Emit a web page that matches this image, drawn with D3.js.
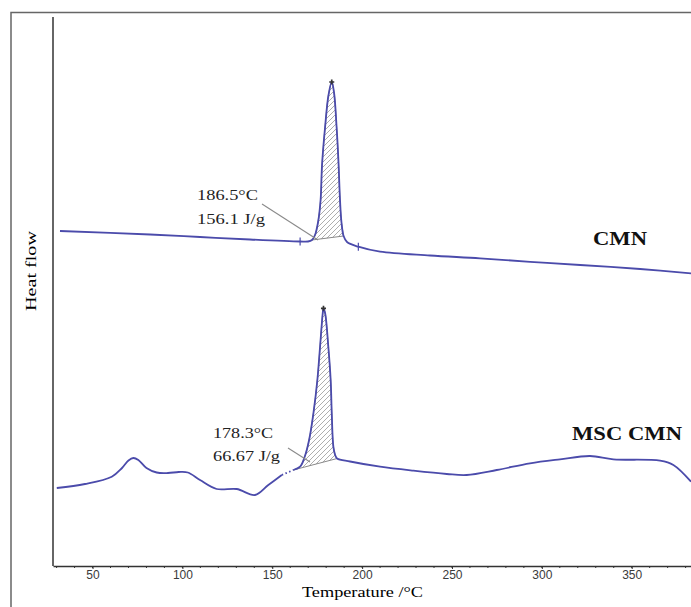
<!DOCTYPE html>
<html>
<head>
<meta charset="utf-8">
<script src="https://cdn.jsdelivr.net/npm/d3@7"></script>
<style>
  body { margin: 0; background: #fff; }
</style>
</head>
<body>
<script>
// DSC traces (heat flow in arbitrary units, endo up)
const cmnT  = [31.9, 82, 109.8, 137.6, 165.5, 169.9, 172.1, 173.8, 175.5, 176.9, 177.7, 179.4, 181.3, 183.1,
               184.4, 185.8, 186.8, 187.7, 188.5, 189.7, 191.6, 197.9, 210, 237.8, 265.6, 293.5, 321.3, 354.7, 383]
const cmnHF = [335, 331.5, 329, 326.5, 324.5, 324.5, 326, 331, 344, 366, 401, 439, 471, 484,
               473, 439, 406, 366, 344, 330, 324, 319.3, 314.3, 310.5, 307.7, 304.2, 301, 297, 292.7]

const mscT  = [30.1, 45.8, 60.7, 66.4, 70, 72.7, 75.5, 80, 85.7, 92, 98, 103, 109.8, 119.1, 130.2, 140.4, 147.8, 155.3,
               161.7, 165.5, 168.2, 170.5, 172.9, 175.1, 176.6, 178.1, 178.5, 179.4, 181.2, 182.5, 183.1, 184, 185, 186.1,
               193.3, 210, 228.5, 247.1, 258.2, 274.9, 293.4, 310.1, 326.8, 339.8, 365.8, 373.2, 383]
const mscHF = [78, 82, 89.3, 98, 105.5, 108, 106, 98, 93.5, 93, 94, 93.5, 86, 77, 77, 71, 81, 91,
               96, 99.3, 110, 126, 152.7, 186, 219.3, 253, 257.7, 253, 219.3, 186, 153, 119.3, 111, 107.5,
               104.5, 99.3, 95.3, 92, 91, 96, 102.7, 106.7, 110, 106.7, 105.3, 101, 84.3]

// analysis marks (temperatures)
const cmnLimits = [165.5, 197.9]
const cmnBase   = [172.1, 189.7]
const mscGap    = [155.3, 161.7]
const mscBase   = [161.7, 186.1]

const xTicks = [50, 100, 150, 200, 250, 300, 350]
const xMinor = d3.range(30, 390, 10)

const cmnNotes = ['186.5°C', '156.1 J/g']
const mscNotes = ['178.3°C', '66.67 J/g']

const W = 691, H = 607
const lineCol = '#4b4bab'

let svg = d3.select('body').append('svg')
    .attr('width', W)
    .attr('height', H)

svg.append('rect').attr('width', W).attr('height', H).attr('fill', '#fff')

// outer frame
svg.append('path')
    .attr('d', `M11,${H} V12.5 H${W}`)
    .attr('fill', 'none')
    .attr('stroke', '#666')
    .attr('stroke-width', 1.5)

const x = d3.scaleLinear().domain([28, 383]).range([53, 691])
const y = d3.scaleLinear().domain([0, 550]).range([566, 16])

// hatch for the integrated peaks
svg.append('defs').append('pattern')
    .attr('id', 'hatch')
    .attr('patternUnits', 'userSpaceOnUse')
    .attr('width', 5).attr('height', 5)
  .append('path')
    .attr('d', 'M-1,1 l2,-2 M0,5 l5,-5 M4,6 l2,-2')
    .attr('stroke', '#999')
    .attr('stroke-width', 0.8)

// axes
svg.append('line')
    .attr('x1', x(28)).attr('x2', x(28))
    .attr('y1', 17).attr('y2', y(0))
    .attr('stroke', '#333').attr('stroke-width', 1.5)

let xAxis = svg.append('g')
    .attr('transform', `translate(0,${y(0)})`)
    .call(d3.axisBottom(x).tickValues(xTicks).tickSize(3).tickPadding(1).tickSizeOuter(0))
xAxis.select('.domain').attr('stroke', '#333').attr('stroke-width', 1.5)
xAxis.selectAll('.tick line').attr('stroke', '#333')
xAxis.selectAll('text')
    .attr('font-family', 'Liberation Sans, Arial, sans-serif')
    .attr('font-size', 12)
    .attr('fill', '#3a3a3a')

svg.append('g')
    .selectAll('line')
    .data(xMinor)
    .join('line')
        .attr('x1', d => x(d)).attr('x2', d => x(d))
        .attr('y1', y(0)).attr('y2', y(0) + 2)
        .attr('stroke', '#333')

svg.append('text')
    .attr('x', 302).attr('y', 597)
    .attr('textLength', 121).attr('lengthAdjust', 'spacingAndGlyphs')
    .attr('font-family', 'Liberation Serif, Times New Roman, serif')
    .attr('font-size', 15)
    .text('Temperature /°C')

svg.append('text')
    .attr('transform', 'translate(36,271) rotate(-90)')
    .attr('text-anchor', 'middle')
    .attr('textLength', 80).attr('lengthAdjust', 'spacingAndGlyphs')
    .attr('font-family', 'Liberation Serif, Times New Roman, serif')
    .attr('font-size', 15)
    .text('Heat flow')

const cmn = cmnT.map((t, i) => ({ t, v: cmnHF[i] }))
const msc = mscT.map((t, i) => ({ t, v: mscHF[i] }))

const line = d3.line().x(d => x(d.t)).y(d => y(d.v)).curve(d3.curveCatmullRom.alpha(0.5))

const inRange = (d, r) => d.t >= r[0] && d.t <= r[1]

// hatched peak areas, closed by the straight integration baseline
svg.append('path')
    .attr('d', line(cmn.filter(d => inRange(d, cmnBase))) + 'Z')
    .attr('fill', 'url(#hatch)')
    .attr('stroke', '#8a8a8a').attr('stroke-width', 1)
svg.append('path')
    .attr('d', line(msc.filter(d => inRange(d, mscBase))) + 'Z')
    .attr('fill', 'url(#hatch)')
    .attr('stroke', '#8a8a8a').attr('stroke-width', 1)

// curves
svg.append('path')
    .attr('d', line(cmn))
    .attr('fill', 'none').attr('stroke', lineCol).attr('stroke-width', 1.8)

svg.append('path')
    .attr('d', line(msc.filter(d => d.t <= mscGap[0])))
    .attr('fill', 'none').attr('stroke', lineCol).attr('stroke-width', 1.8)
svg.append('path')
    .attr('d', line(msc.filter(d => inRange(d, mscGap))))
    .attr('fill', 'none').attr('stroke', lineCol).attr('stroke-width', 1.8)
    .attr('stroke-dasharray', '1.5,2.5')
svg.append('path')
    .attr('d', line(msc.filter(d => d.t >= mscGap[1])))
    .attr('fill', 'none').attr('stroke', lineCol).attr('stroke-width', 1.8)

// limit ticks on CMN
svg.append('g')
    .selectAll('line')
    .data(cmn.filter(d => cmnLimits.includes(d.t)))
    .join('line')
        .attr('x1', d => x(d.t)).attr('x2', d => x(d.t))
        .attr('y1', d => y(d.v) - 4).attr('y2', d => y(d.v) + 4)
        .attr('stroke', lineCol).attr('stroke-width', 1.2)

// peak markers
const peaks = [d3.greatest(cmn, d => d.v), d3.greatest(msc, d => d.v)]
svg.append('g')
    .selectAll('path')
    .data(peaks)
    .join('path')
        .attr('transform', d => `translate(${x(d.t)},${y(d.v)})`)
        .attr('d', d3.symbol(d3.symbolCross, 14))
        .attr('fill', '#333')

// leader lines
const leaders = [[[262, 204], [318, 240]], [[288, 448], [310, 462]]]
svg.append('g')
    .selectAll('path')
    .data(leaders)
    .join('path')
        .attr('d', d => d3.line()(d))
        .attr('stroke', '#8a8a8a').attr('stroke-width', 1.1)

// notes
const notes = [
    { s: cmnNotes[0], x: 197, y: 200, w: 61 },
    { s: cmnNotes[1], x: 197, y: 224, w: 68 },
    { s: mscNotes[0], x: 213, y: 438, w: 60 },
    { s: mscNotes[1], x: 213, y: 461, w: 67 }
]
svg.append('g')
    .selectAll('text')
    .data(notes)
    .join('text')
        .attr('x', d => d.x).attr('y', d => d.y)
        .attr('textLength', d => d.w).attr('lengthAdjust', 'spacingAndGlyphs')
        .attr('font-family', 'Liberation Serif, Times New Roman, serif')
        .attr('font-size', 15)
        .attr('fill', '#222')
        .text(d => d.s)

// series names
const names = [
    { s: 'CMN', x: 593, y: 245, w: 54 },
    { s: 'MSC CMN', x: 572, y: 440, w: 110 }
]
svg.append('g')
    .selectAll('text')
    .data(names)
    .join('text')
        .attr('x', d => d.x).attr('y', d => d.y)
        .attr('textLength', d => d.w).attr('lengthAdjust', 'spacingAndGlyphs')
        .attr('font-family', 'Liberation Serif, Times New Roman, serif')
        .attr('font-size', 18)
        .attr('font-weight', 'bold')
        .attr('fill', '#111')
        .text(d => d.s)
</script>
</body>
</html>
